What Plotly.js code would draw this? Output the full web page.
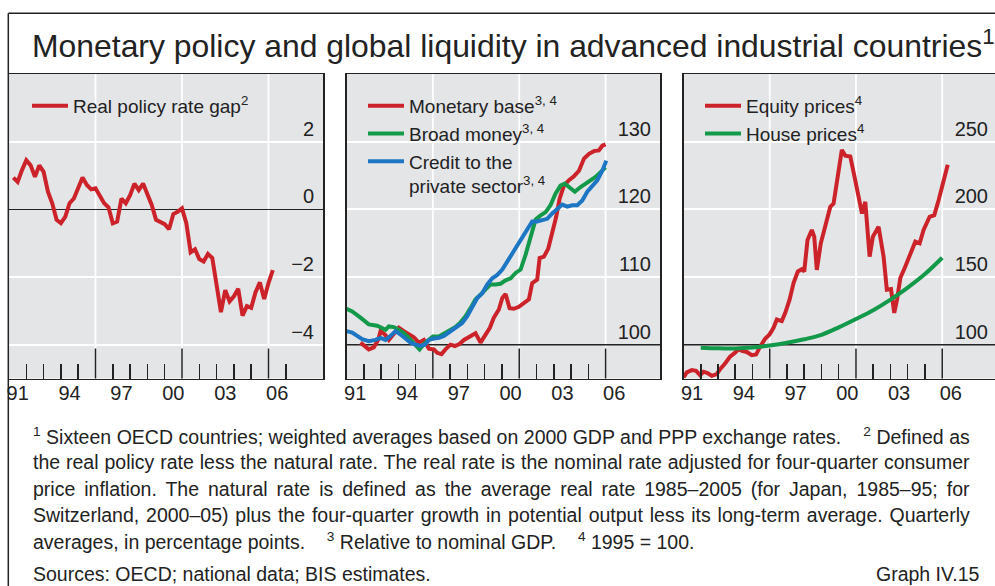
<!DOCTYPE html>
<html>
<head>
<meta charset="utf-8">
<script src="https://cdn.plot.ly/plotly-3.0.1.min.js"></script>
<style>
html,body{margin:0;padding:0;background:#fff;}
#chart{width:995px;height:586px;}
</style>
</head>
<body>
<div id="chart"></div>
<script>
// ---------------- DATA ----------------
// Panel 1: real policy rate gap (percentage points), quarterly from 1991 Q2
const gapStartYear = 1991.25;
const gapValues = [0.94,0.81,1.16,1.45,1.30,0.96,1.30,1.11,0.52,0.18,-0.31,-0.41,-0.22,0.18,0.32,0.67,
  0.94,0.72,0.59,0.62,0.39,0.18,0.06,-0.41,-0.36,0.32,0.18,0.42,0.76,0.57,0.76,0.47,0.13,-0.31,-0.39,
  -0.44,-0.59,-0.14,-0.07,0.03,-0.41,-1.27,-1.18,-1.47,-1.54,-1.32,-1.44,-2.27,-3.04,-2.39,-2.72,-2.57,
  -2.35,-3.14,-2.86,-2.91,-2.45,-2.16,-2.65,-2.18,-1.80];

// Panel 2: liquidity relative to nominal GDP, 1995 = 100
const baseYears = [1991.81,1992.06,1992.29,1992.58,1992.83,1992.97,1993.22,1993.45,1993.74,1994.03,1994.32,
  1994.61,1994.90,1995.19,1995.48,1995.77,1996.06,1996.25,1996.50,1996.73,1997.02,1997.27,1997.54,1997.80,
  1998.08,1998.47,1998.76,1999.05,1999.30,1999.53,1999.82,2000.02,2000.21,2000.44,2000.69,2000.98,2001.27,
  2001.56,2001.75,2002.04,2002.18,2002.43,2002.68,2002.91,2003.14,2003.34,2003.59,2003.88,2004.17,2004.46,
  2004.75,2005.04,2005.32,2005.61,2005.81,2006.00];
const baseValues = [100.3,99.8,99.3,99.6,100.7,102.0,101.5,100.7,101.5,102.5,102.0,101.5,101.1,100.3,100.7,
  99.4,99.3,98.8,98.6,99.3,100.0,99.8,100.1,100.7,101.1,101.7,100.3,101.5,102.5,104.0,105.2,106.9,107.5,
  105.4,105.3,105.6,106.2,106.7,109.1,109.6,112.8,113.0,114.2,116.4,118.9,121.6,123.5,124.3,124.9,125.7,
  127.5,128.2,128.6,128.7,129.4,129.6];

const broadYears = [1991.00,1991.33,1991.81,1992.29,1992.78,1993.07,1993.26,1993.45,1993.74,1994.03,1994.32,
  1994.61,1994.90,1995.23,1995.48,1995.77,1996.00,1996.35,1996.73,1997.02,1997.31,1997.60,1997.89,1998.18,
  1998.47,1998.76,1999.05,1999.34,1999.63,1999.92,2000.21,2000.50,2000.79,2001.08,2001.37,2001.66,2001.95,
  2002.24,2002.53,2002.81,2003.10,2003.39,2003.64,2003.88,2004.22,2004.55,2004.84,2005.13,2005.42,2005.71,
  2006.00];
const broadValues = [105.3,104.9,104.0,103.0,102.8,102.5,102.2,102.7,102.6,102.2,101.7,101.0,100.3,99.3,
  100.1,100.7,101.2,101.2,101.7,102.1,102.6,103.3,104.2,105.4,106.7,107.4,108.1,108.9,108.9,109.0,109.5,
  109.8,110.6,111.1,113.3,116.0,118.5,119.1,119.6,120.6,122.3,123.5,123.8,123.3,122.6,123.3,123.8,124.2,
  124.8,125.5,126.2];

const creditYears = [1991.00,1991.33,1991.62,1991.91,1992.29,1992.68,1992.97,1993.26,1993.55,1993.84,1994.13,
  1994.42,1994.71,1995.00,1995.29,1995.54,1995.77,1996.06,1996.35,1996.64,1997.02,1997.41,1997.70,1997.99,
  1998.28,1998.57,1998.86,1999.15,1999.44,1999.73,2000.02,2000.31,2000.59,2000.88,2001.17,2001.46,2001.75,
  2002.04,2002.33,2002.62,2002.91,2003.20,2003.49,2003.78,2004.07,2004.36,2004.65,2004.94,2005.23,2005.52,
  2005.81,2006.04];
const creditValues = [102.0,101.8,101.3,100.8,100.5,100.7,101.0,100.7,101.3,102.0,101.5,100.8,100.3,100.0,
  99.8,100.0,100.7,100.9,101.0,101.3,102.0,102.6,103.2,104.2,105.7,106.9,107.6,108.9,109.8,110.3,111.1,
  112.3,113.5,114.7,115.9,117.2,118.2,118.2,118.4,118.6,119.4,120.1,120.7,120.4,120.6,120.6,121.3,122.6,
  123.5,124.3,125.7,127.2];

// Panel 3: asset prices, 1995 = 100
const equityYears = [1991.00,1991.19,1991.48,1991.73,1991.96,1992.16,1992.39,1992.64,1992.93,1993.12,1993.41,
  1993.70,1993.99,1994.19,1994.38,1994.67,1994.96,1995.21,1995.44,1995.73,1995.99,1996.22,1996.41,1996.70,
  1996.90,1997.15,1997.38,1997.63,1997.86,1998.00,1998.19,1998.44,1998.58,1998.73,1998.96,1999.22,1999.51,
  1999.70,1999.89,2000.18,2000.38,2000.67,2000.92,2001.21,2001.35,2001.54,2001.79,2001.98,2002.31,2002.60,
  2002.79,2003.03,2003.22,2003.38,2003.57,2003.86,2004.19,2004.44,2004.69,2004.92,2005.27,2005.54,2005.79,
  2006.32];
const equityValues = [75.8,79.5,81.2,80.7,77.5,80.0,79.0,77.0,78.2,81.9,86.1,91.2,94.1,96.6,95.4,94.6,92.2,
  92.7,98.5,104.4,107.6,112.5,118.6,117.4,123.5,133.3,145.5,154.1,155.8,154.1,177.3,184.7,179.8,155.3,
  174.9,187.1,201.8,204.2,221.0,243.9,239.7,239.0,223.8,204.2,196.9,205.5,165.1,179.8,187.1,165.1,140.6,
  141.1,123.5,133.3,149.2,157.8,167.5,176.1,174.9,184.7,194.5,195.7,206.7,232.9];

const houseYears = [1992,1993,1994,1995,1996,1997,1998,1999,2000,2001,2002,2003,2004,2005,2006];
const houseValues = [97.8,97.3,97.2,97.9,99.4,101.4,104.0,107.3,112.8,119.0,125.5,133.3,142.2,152.2,164.2];

// Axis labels and grid positions
const labelYears = [1991,1994,1997,2000,2003,2006];
const yearLabels = ['91','94','97','00','03','06'];
const gridYears = [1996,2001,2006];
const gapTicks = [-4,-2,0,2];
const liquidityTicks = [100,110,120,130];
const priceTicks = [100,150,200,250];
const baseIndex = 100;

// ---------------- STYLE / LAYOUT ----------------
const W = 995, H = 586;
const FONT = 'Liberation Sans, Arial, Helvetica, sans-serif';
const INK = '#222222';
const RED = '#cc2229', GREEN = '#13994a', BLUE = '#1c76c3';
const BG = '#e4e5e7';
const GRID_W = 1.8;
const px = v => v / W;
const py = v => 1 - v / H;

const gapYears = gapValues.map((_, i) => gapStartYear + i * 0.25);
const minorYears = [];
for (let y = 1992; y <= 2008; y++) if (!gridYears.includes(y)) minorYears.push(y);
const labelPos = labelYears.map(y => y + 0.5);

const PLOT_TOP = 74, PLOT_BOTTOM = 378.5;
const yDomain = [1 - PLOT_BOTTOM / H, 1 - PLOT_TOP / H];
const longTickFrac = 30 / (PLOT_BOTTOM - PLOT_TOP);
const panels = [
  {x: 'x', y: 'y', dom: [px(9), px(323)], xEnd: 2009.15},
  {x: 'x2', y: 'y2', dom: [px(346.5), px(660)], xEnd: 2009.15},
  {x: 'x3', y: 'y3', dom: [px(683.5), 1], xEnd: 2009.06}
];

function timeAxis(p) {
  return {
    domain: p.dom, range: [1991, p.xEnd], anchor: p.y,
    tickmode: 'array', tickvals: labelPos, ticktext: yearLabels, ticks: '',
    showgrid: false, zeroline: false,
    showline: true, mirror: true, linecolor: INK, linewidth: 1.5, fixedrange: true,
    tickfont: {family: FONT, size: 20, color: INK}, ticklabelstandoff: -4,
    minor: {tickmode: 'array', tickvals: minorYears, ticks: 'inside', ticklen: 15, tickwidth: 1.5,
            tickcolor: INK, showgrid: false}
  };
}
function valueAxis(p, range, ticks, standoff, zero) {
  return {
    domain: yDomain, range: range, anchor: p.x, side: 'right', ticklabelposition: 'inside',
    tickmode: 'array', tickvals: ticks, ticks: '', showgrid: false,
    zeroline: !!zero, zerolinecolor: INK, zerolinewidth: 1.5,
    showline: true, mirror: true, linecolor: INK, linewidth: 1.5, fixedrange: true,
    tickfont: {family: FONT, size: 20, color: INK}, ticklabelshift: -13, ticklabelstandoff: standoff,
    minor: {tickmode: 'array', tickvals: ticks.filter(v => v !== (zero ? 0 : baseIndex)), ticks: '',
            showgrid: true, gridcolor: '#ffffff', gridwidth: GRID_W}
  };
}

const lineW = 4;
const traces = [
  {x: gapYears, y: gapValues, xaxis: 'x', yaxis: 'y', type: 'scatter', mode: 'lines',
   name: 'Real policy rate gap<sup>2</sup>', line: {color: RED, width: lineW}, legend: 'legend'},
  {x: baseYears, y: baseValues, xaxis: 'x2', yaxis: 'y2', type: 'scatter', mode: 'lines',
   name: 'Monetary base<sup>3, 4</sup>', line: {color: RED, width: lineW}, legend: 'legend2'},
  {x: broadYears, y: broadValues, xaxis: 'x2', yaxis: 'y2', type: 'scatter', mode: 'lines',
   name: 'Broad money<sup>3, 4</sup>', line: {color: GREEN, width: lineW}, legend: 'legend2'},
  {x: creditYears, y: creditValues, xaxis: 'x2', yaxis: 'y2', type: 'scatter', mode: 'lines',
   name: 'Credit to the<br>private sector<sup>3, 4</sup>', line: {color: BLUE, width: lineW}, legend: 'legend2'},
  {x: equityYears, y: equityValues, xaxis: 'x3', yaxis: 'y3', type: 'scatter', mode: 'lines',
   name: 'Equity prices<sup>4</sup>', line: {color: RED, width: lineW}, legend: 'legend3'},
  {x: houseYears, y: houseValues, xaxis: 'x3', yaxis: 'y3', type: 'scatter', mode: 'lines',
   name: 'House prices<sup>4</sup>', line: {color: GREEN, width: lineW, shape: 'spline'}, legend: 'legend3'}
];

function legendAt(xpx, ytop) {
  return {x: px(xpx), y: py(ytop), xanchor: 'left', yanchor: 'top', bgcolor: 'rgba(0,0,0,0)',
          borderwidth: 0, font: {family: FONT, size: 19, color: INK}, itemwidth: 36,
          tracegroupgap: 0, valign: 'top', traceorder: 'normal'};
}

const GAP = '\u00a0\u00a0\u00a0\u00a0';
const footLines = [
  '<sup>1</sup> Sixteen OECD countries; weighted averages based on 2000 GDP and PPP exchange rates.' + GAP + '<sup>2</sup> Defined as',
  'the real policy rate less the natural rate. The real rate is the nominal rate adjusted for four-quarter consumer',
  'price inflation. The natural rate is defined as the average real rate 1985–2005 (for Japan, 1985–95; for',
  'Switzerland, 2000–05) plus the four-quarter growth in potential output less its long-term average. Quarterly',
  'averages, in percentage points.' + GAP + '<sup>3</sup> Relative to nominal GDP.' + GAP + '<sup>4</sup> 1995 = 100.'
];
const NOTE_SIZE = 19.5;

const annotations = [
  {text: 'Monetary policy and global liquidity in advanced industrial countries<sup>1</sup>',
   xref: 'paper', yref: 'paper', x: px(30), y: py(44), xanchor: 'left', yanchor: 'middle',
   showarrow: false, font: {family: FONT, size: 31.9, color: INK}}
];
footLines.forEach((t, i) => annotations.push({
  text: t, xref: 'paper', yref: 'paper', x: px(31), y: py(436 + i * 26.3), xanchor: 'left', yanchor: 'middle',
  showarrow: false, align: 'left', font: {family: FONT, size: NOTE_SIZE, color: INK}
}));
annotations.push({text: 'Sources: OECD; national data; BIS estimates.', xref: 'paper', yref: 'paper',
  x: px(31), y: py(574), xanchor: 'left', yanchor: 'middle', showarrow: false,
  font: {family: FONT, size: NOTE_SIZE, color: INK}});
annotations.push({text: 'Graph IV.15', xref: 'paper', yref: 'paper',
  x: px(982), y: py(574), xanchor: 'right', yanchor: 'middle', showarrow: false,
  font: {family: FONT, size: NOTE_SIZE, color: INK}});

const frame = {color: INK, width: 1.5};
const shapes = [
  {type: 'line', xref: 'paper', yref: 'paper', x0: px(8.3), x1: 1.01, y0: py(13.3), y1: py(13.3), line: frame},
  {type: 'line', xref: 'paper', yref: 'paper', x0: px(8.3), x1: px(8.3), y0: py(13.3), y1: -0.01, line: frame}
];
// vertical white grid lines and long year ticks (every five years), plus the dark base line
panels.forEach((p, k) => {
  gridYears.forEach(yr => {
    shapes.push({type: 'line', xref: p.x, yref: p.y + ' domain', x0: yr, x1: yr, y0: 0, y1: 1,
                 line: {color: '#ffffff', width: GRID_W}, layer: 'below'});
    shapes.push({type: 'line', xref: p.x, yref: p.y + ' domain', x0: yr, x1: yr, y0: 0, y1: longTickFrac,
                 line: {color: INK, width: 1.5}, layer: 'below'});
  });
  if (k > 0) {
    shapes.push({type: 'line', xref: p.x + ' domain', yref: p.y, x0: 0, x1: 1, y0: baseIndex, y1: baseIndex,
                 line: {color: INK, width: 1.5}, layer: 'below'});
  }
});

const layout = {
  width: W, height: H, margin: {l: 0, r: 0, t: 0, b: 0},
  paper_bgcolor: '#ffffff', plot_bgcolor: BG,
  font: {family: FONT, color: INK},
  showlegend: true,
  xaxis: timeAxis(panels[0]),
  xaxis2: timeAxis(panels[1]),
  xaxis3: timeAxis(panels[2]),
  yaxis: valueAxis(panels[0], [-5, 4], gapTicks, 10, true),
  yaxis2: valueAxis(panels[1], [95, 140], liquidityTicks, 10),
  yaxis3: valueAxis(panels[2], [75, 300], priceTicks, 8),
  legend: legendAt(27, 87),
  legend2: legendAt(363, 87),
  legend3: legendAt(700, 87),
  annotations: annotations,
  shapes: shapes
};

Plotly.newPlot('chart', traces, layout, {displayModeBar: false, staticPlot: true}).then(gd => {
  // justify the full-width footnote lines (1–4)
  const right = 968, left = 31;
  gd.querySelectorAll('g.annotation').forEach(g => {
    const idx = +g.getAttribute('data-index');
    if (idx >= 1 && idx <= 4) {
      const t = g.querySelector('text');
      if (!t) return;
      const box = t.getBBox();
      const n = (t.textContent.match(/[ \u00a0]/g) || []).length;
      if (n > 0) {
        const extra = (right - left) - box.width;
        t.style.wordSpacing = (extra / n) + 'px';
      }
    }
  });
});
</script>
</body>
</html>
